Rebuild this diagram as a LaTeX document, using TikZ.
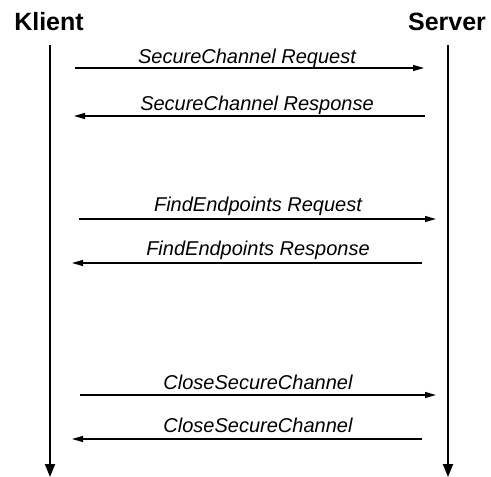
\documentclass[tikz,border=0pt]{standalone}
\usepackage{fontspec}
\setmainfont{Liberation Sans}
\usetikzlibrary{arrows.meta}
\begin{document}
\begin{tikzpicture}[x=1pt,y=-1pt,
  head/.style={font=\fontsize{25}{25}\selectfont\bfseries, inner sep=0pt},
  msglabel/.style={font=\fontsize{20}{20}\selectfont\itshape, inner sep=0pt},
  lifeline/.style={line width=2pt, -{Triangle[length=13pt,width=10pt]}},
  msg/.style={line width=1.2pt, -{Triangle[length=11pt,width=6pt]}}]
\useasboundingbox (0,0) rectangle (491,477);
\node[head] (klient) at (49,22) {Klient};
\node[head] (server) at (447,22) {Server};
\coordinate (kt) at (50,45);
\coordinate (kb) at (50,477);
\coordinate (st) at (448,45);
\coordinate (sb) at (448,477);
\draw[lifeline] (kt) -- (kb);
\draw[lifeline] (st) -- (sb);
% messages
\coordinate (a1) at (75,68);  \coordinate (b1) at (424,68);
\coordinate (a2) at (425,116); \coordinate (b2) at (74,116);
\coordinate (a3) at (79,219); \coordinate (b3) at (436,219);
\coordinate (a4) at (422,263); \coordinate (b4) at (72,263);
\coordinate (a5) at (80,395); \coordinate (b5) at (436,395);
\coordinate (a6) at (422,439); \coordinate (b6) at (72,439);
\draw[msg] (a1) -- (b1);
\draw[msg] (a2) -- (b2);
\draw[msg] (a3) -- (b3);
\draw[msg] (a4) -- (b4);
\draw[msg] (a5) -- (b5);
\draw[msg] (a6) -- (b6);
\node[msglabel] (l1) at (247,58) {SecureChannel Request};
\node[msglabel] (l2) at (257,105) {SecureChannel Response};
\node[msglabel] (l3) at (258,206) {FindEndpoints Request};
\node[msglabel] (l4) at (258,250) {FindEndpoints Response};
\node[msglabel] (l5) at (258,382) {CloseSecureChannel};
\node[msglabel] (l6) at (258,425) {CloseSecureChannel};
\end{tikzpicture}
\end{document}
